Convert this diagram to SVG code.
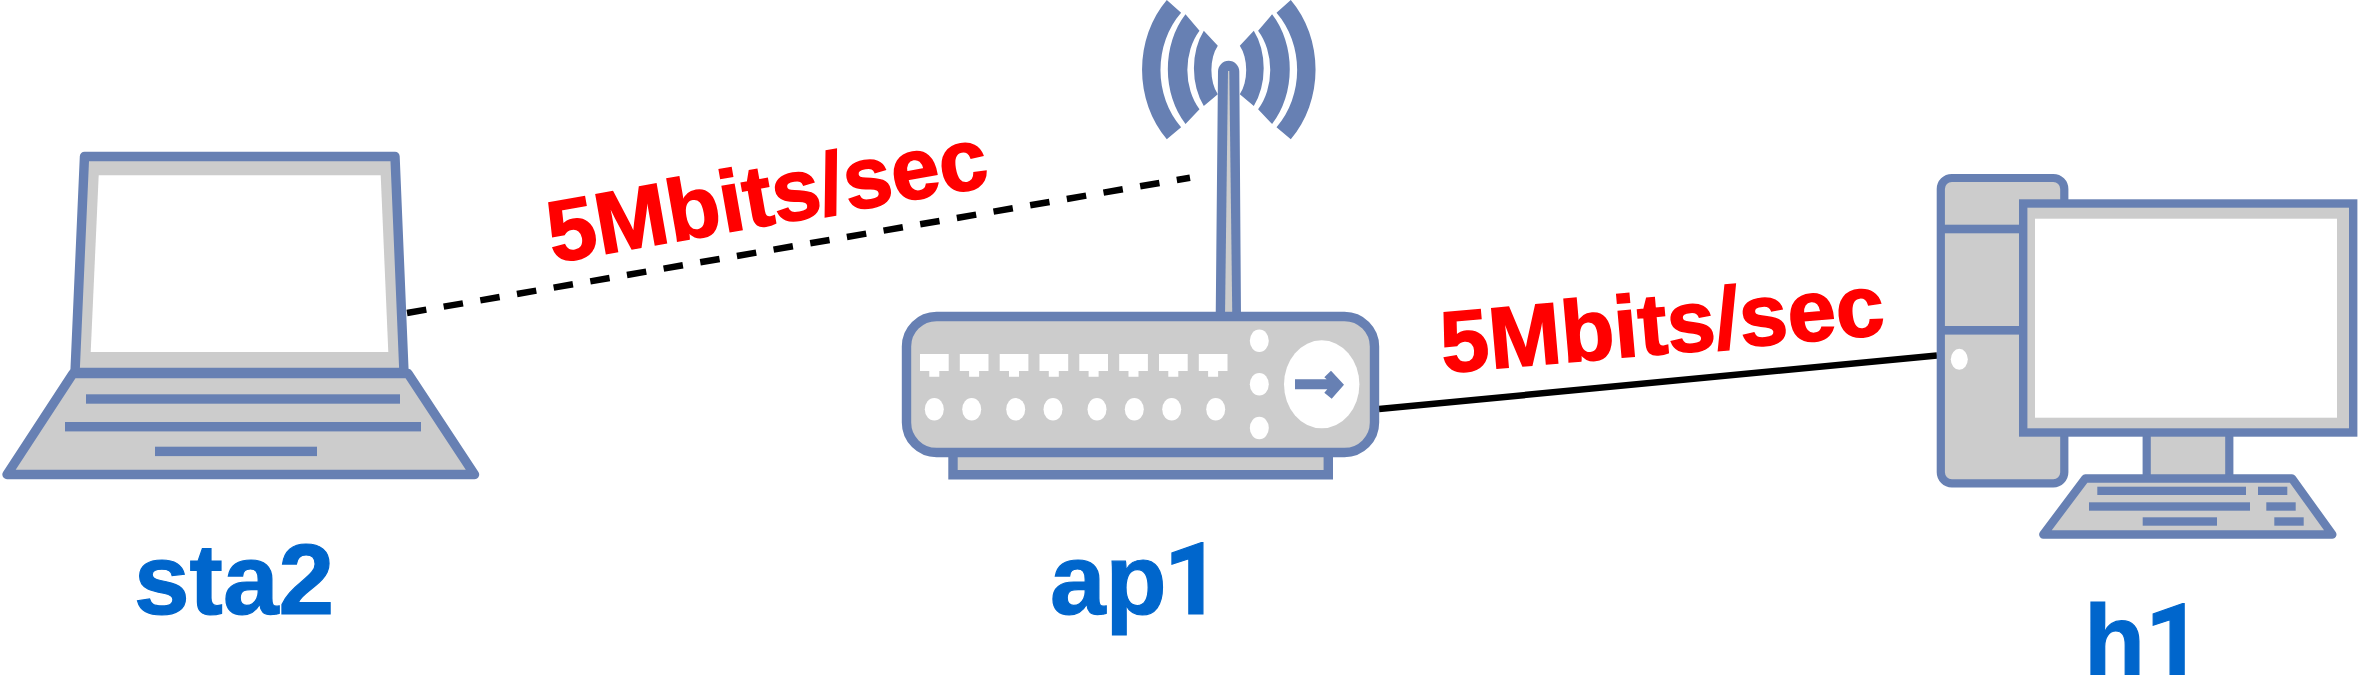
<svg xmlns="http://www.w3.org/2000/svg" width="2358" height="675" viewBox="0 0 2358 675">
<style>
.b{fill:#6780b3}
.o{fill:#ccc;stroke:#6780b3;stroke-width:9.4;stroke-linejoin:round}
.w{fill:#fff}
.lbl{font-family:"Liberation Sans",Arial,sans-serif;font-weight:700;font-size:100px;fill:#0066cc;stroke:#0066cc;stroke-width:1.2}
.one{font-family:Roboto,"Liberation Sans",sans-serif;font-weight:700}
.rate{font-family:"Liberation Sans",Arial,sans-serif;font-weight:700;font-size:87px;fill:#ff0000;stroke:#ff0000;stroke-width:1.6}
</style>
<defs>
<g id="waves" class="b">
<path d="M62,-70A87,99.7 0 0 1 62,69.3L47.7,57.3A68.3,80 0 0 0 47.7,-57.3Z"/>
<path d="M43.3,-55.7A61.7,78.3 0 0 1 43.3,54L29.3,39.3A41.7,55.7 0 0 0 29.3,-39.3Z"/>
<path d="M25,-39.3A36,54.7 0 0 1 25,36L11,24.3A17.3,31.3 0 0 0 11,-24.3Z"/>
</g>
<g id="port"><path class="w" d="M0,0H28.7V17H19.3V22.7H9.3V17H0Z"/></g>
</defs>
<g id="connectors">
<line x1="407" y1="313" x2="1190" y2="177.7" stroke="#000" stroke-width="6.5" stroke-dasharray="19.6 17.6"/>
<line x1="1379" y1="409" x2="1937" y2="355.5" stroke="#000" stroke-width="6.5"/>
</g>
<g id="sta2">
<path class="o" d="M84.5,156.5H395L404,372.5H75Z"/>
<path class="w" d="M98.7,175.3H380.7L388.3,352H90.7Z"/>
<path class="o" d="M73,373.5H408L474.5,474.5H7Z"/>
<rect class="b" x="86" y="394.3" width="314" height="9.4"/>
<rect class="b" x="65" y="422" width="356" height="9.4"/>
<rect class="b" x="155" y="446.7" width="162" height="9.4"/>
<text class="lbl" x="134" y="614">sta2</text>
</g>
<g id="ap1">
<use href="#waves" transform="translate(1228.8,70)"/>
<use href="#waves" transform="translate(1228.8,70) scale(-1,1)"/>
<path class="b" d="M1215.7,318L1218,71.5A10.65,10.65 0 0 1 1239.3,71.5L1241,318Z"/>
<path fill="#ccc" d="M1225,318L1228,71H1229.3L1232.3,318Z"/>
<path class="o" d="M953,450V474.7H1328.3V450Z" style="stroke-linejoin:miter"/>
<rect class="o" x="906.5" y="316.5" width="468" height="136" rx="30"/>
<use href="#port" x="920" y="354"/>
<use href="#port" x="959.8" y="354"/>
<use href="#port" x="999.7" y="354"/>
<use href="#port" x="1039.5" y="354"/>
<use href="#port" x="1079.3" y="354"/>
<use href="#port" x="1119.2" y="354"/>
<use href="#port" x="1159" y="354"/>
<use href="#port" x="1198.8" y="354"/>
<g class="w">
<ellipse cx="934.3" cy="409.3" rx="9.5" ry="11.3"/>
<ellipse cx="971.7" cy="409.3" rx="9.5" ry="11.3"/>
<ellipse cx="1015.7" cy="409.3" rx="9.5" ry="11.3"/>
<ellipse cx="1053" cy="409.3" rx="9.5" ry="11.3"/>
<ellipse cx="1097" cy="409.3" rx="9.5" ry="11.3"/>
<ellipse cx="1134.3" cy="409.3" rx="9.5" ry="11.3"/>
<ellipse cx="1171.7" cy="409.3" rx="9.5" ry="11.3"/>
<ellipse cx="1215.7" cy="409.3" rx="9.5" ry="11.3"/>
<ellipse cx="1259.3" cy="340.7" rx="9.5" ry="11.3"/>
<ellipse cx="1259.3" cy="384.3" rx="9.5" ry="11.3"/>
<ellipse cx="1259.3" cy="428" rx="9.5" ry="11.3"/>
<ellipse cx="1321.7" cy="384.3" rx="37.7" ry="44"/>
</g>
<path class="b" d="M1295,379.3H1326.7L1324.3,377.3L1331,370.7L1344,384.7L1331.7,398.7L1324.3,392.7L1327.3,389.3H1295Z"/>
<text class="lbl" x="1050" y="614">ap<tspan class="one" dx="-3">1</tspan></text>
</g>
<g id="h1">
<rect class="o" x="1940.8" y="178" width="123.5" height="305.3" rx="11" style="stroke-width:8.2"/>
<rect class="b" x="1940" y="224.7" width="85" height="8.6"/>
<rect class="b" x="1940" y="326" width="85" height="8.6"/>
<ellipse class="w" cx="1959.3" cy="359.3" rx="8.5" ry="10.5"/>
<rect class="o" x="2146.7" y="430" width="82.6" height="50" style="stroke-width:8.2"/>
<rect class="o" x="2023.2" y="203.5" width="330" height="229" style="stroke-width:8.4;stroke-linejoin:miter"/>
<rect class="w" x="2035" y="218.7" width="302" height="199"/>
<path class="o" d="M2085.3,478.5H2292L2332.3,534.5H2043.3Z" style="stroke-width:8.4"/>
<g class="b">
<rect x="2097.3" y="486.7" width="148.7" height="8.3"/>
<rect x="2258" y="486.7" width="29.3" height="8.3"/>
<rect x="2089" y="502.3" width="161" height="8.4"/>
<rect x="2266.3" y="502.3" width="29.4" height="8.4"/>
<rect x="2142.7" y="517.3" width="74.3" height="8.4"/>
<rect x="2274.3" y="517.3" width="29.4" height="8.4"/>
</g>
<text class="lbl" x="2084" y="675">h<tspan class="one">1</tspan></text>
</g>
<text class="rate" transform="translate(553,263) rotate(-10)">5Mbits/sec</text>
<text class="rate" transform="translate(1443,373) rotate(-5)">5Mbits/sec</text>
</svg>
